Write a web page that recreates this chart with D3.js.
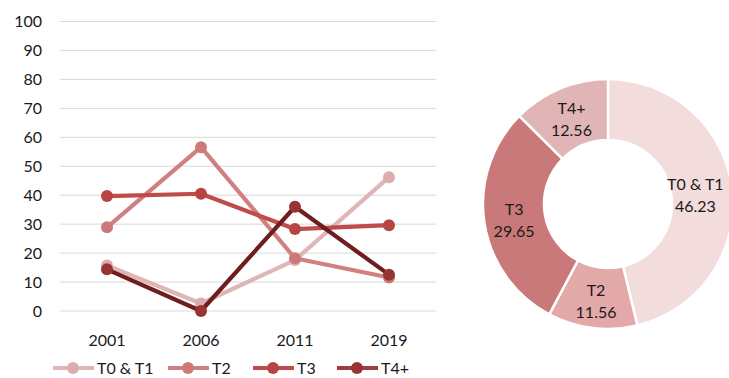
<!DOCTYPE html>
<html>
<head>
<meta charset="utf-8">
<script src="https://cdn.jsdelivr.net/npm/d3@7"></script>
<style>
  html, body { margin: 0; padding: 0; background: #fff; }
  svg { display: block; font-family: Lato, "Open Sans", sans-serif; }
</style>
</head>
<body>
<svg id="chart" width="729" height="378"></svg>
<script>
// Survey years on the x axis
const years = ["2001", "2006", "2011", "2019"];
const yTicks = [0, 10, 20, 30, 40, 50, 60, 70, 80, 90, 100];

// Share (%) per stage group and year
const seriesNames = ["T0 & T1", "T2", "T3", "T4+"];
const t0t1Values = [15.7, 2.6, 17.6, 46.23];
const t2Values = [28.9, 56.6, 18.2, 11.56];
const t3Values = [39.7, 40.5, 28.3, 29.65];
const t4Values = [14.4, 0, 36.0, 12.56];

// Latest-year breakdown shown in the donut
const donutLabels = ["T0 & T1", "T2", "T3", "T4+"];
const donutValues = [46.23, 11.56, 29.65, 12.56];

const lineColors = ["#e0b5b5", "#d08080", "#bf4b4b", "#6e1e1e"];
const dotColors = ["#ddacac", "#cc7979", "#b84545", "#983434"];
const legendLineColors = ["#e0b5b5", "#d08080", "#bf4b4b", "#a03c3c"];
const donutColors = ["#f2dcdc", "#e3a9a9", "#c97979", "#e1b5b5"];

const svg = d3.select("#chart");

// ---- line chart ----
const x = d3.scaleBand().domain(years).range([60, 436]);
const y = d3.scaleLinear().domain([0, 100]).range([311, 21.5]);

const grid = svg.append("g");
grid.selectAll("line").data(yTicks).join("line")
  .attr("x1", 60).attr("x2", 436)
  .attr("y1", d => y(d)).attr("y2", d => y(d))
  .attr("stroke", "#d9d9d9").attr("stroke-width", 1);

const yAxis = d3.axisLeft(y).tickValues(yTicks).tickSize(0).tickPadding(0);
svg.append("g").attr("transform", "translate(42,0)").call(yAxis)
  .call(g => g.select(".domain").remove())
  .call(g => g.selectAll("text").attr("font-size", 16).attr("fill", "#1a1a1a")
    .attr("font-family", "Lato, sans-serif"));

const xAxis = d3.axisBottom(x).tickSize(0).tickPadding(0);
svg.append("g").attr("transform", "translate(0,335)").call(xAxis)
  .call(g => g.select(".domain").remove())
  .call(g => g.selectAll("text").attr("font-size", 16).attr("fill", "#1a1a1a")
    .attr("font-family", "Lato, sans-serif"));

const allSeries = [t0t1Values, t2Values, t3Values, t4Values];
const cx = d => x(d) + x.bandwidth() / 2;
const line = d3.line().x((d, i) => cx(years[i])).y(d => y(d));

allSeries.forEach((vals, s) => {
  const g = svg.append("g");
  g.append("path").datum(vals)
    .attr("d", line).attr("fill", "none")
    .attr("stroke", lineColors[s]).attr("stroke-width", 4.2)
    .attr("stroke-linejoin", "round");
  g.selectAll("circle").data(vals).join("circle")
    .attr("cx", (d, i) => cx(years[i])).attr("cy", d => y(d))
    .attr("r", 6).attr("fill", dotColors[s]);
});

// legend
const legendX = [53, 168, 253, 337];
const legend = svg.append("g");
seriesNames.forEach((name, s) => {
  const lx = legendX[s], ly = 368;
  legend.append("line").attr("x1", lx).attr("x2", lx + 41)
    .attr("y1", ly).attr("y2", ly)
    .attr("stroke", legendLineColors[s]).attr("stroke-width", 4);
  legend.append("circle").attr("cx", lx + 20).attr("cy", ly).attr("r", 6)
    .attr("fill", dotColors[s]);
  legend.append("text").attr("x", lx + 44).attr("y", ly + 6)
    .attr("font-size", 16).attr("fill", "#1a1a1a").text(name);
});

// ---- donut ----
const pie = d3.pie().sort(null).value(d => d)(donutValues);
const arc = d3.arc().innerRadius(64).outerRadius(125);
const donut = svg.append("g").attr("transform", "translate(608,204)");
donut.selectAll("path").data(pie).join("path")
  .attr("d", arc)
  .attr("fill", (d, i) => donutColors[i])
  .attr("stroke", "#fff").attr("stroke-width", 2.5);

// labels sit on the ring's mid radius; the first one is pulled in from the edge
const labelArc = d3.arc().innerRadius(95).outerRadius(95);
const labelShiftX = [-7, 0, 0, 0];
donut.selectAll("text.lbl").data(pie).join("text")
  .attr("class", "lbl")
  .attr("transform", (d, i) => {
    const [px, py] = labelArc.centroid(d);
    return `translate(${px + labelShiftX[i]},${py + 2.5})`;
  })
  .attr("text-anchor", "middle")
  .attr("font-size", 16).attr("fill", "#1a1a1a")
  .each(function(d, i) {
    const t = d3.select(this);
    t.append("tspan").attr("x", 0).attr("y", -5.2).text(donutLabels[i]);
    t.append("tspan").attr("x", 0).attr("y", 16.8).text(d.value.toFixed(2));
  });
</script>
</body>
</html>
